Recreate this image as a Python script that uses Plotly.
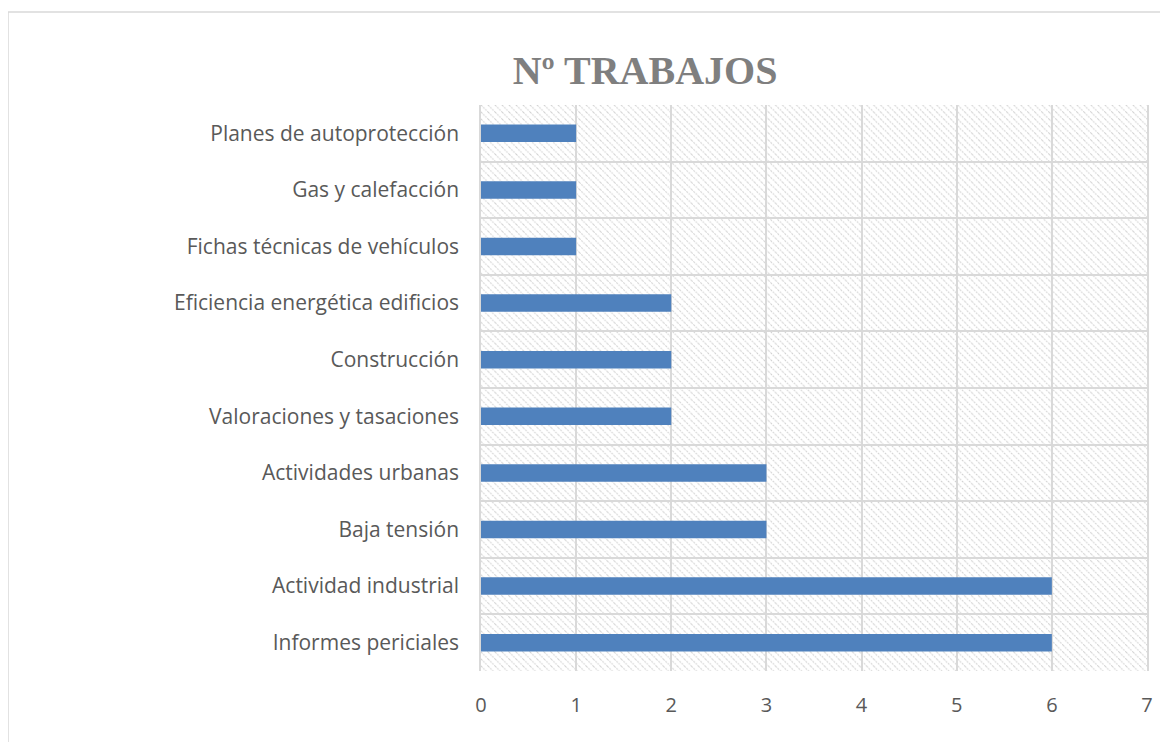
import base64

import plotly.graph_objects as go

categorias = [
    "Informes periciales",
    "Actividad industrial",
    "Baja tensión",
    "Actividades urbanas",
    "Valoraciones y tasaciones",
    "Construcción",
    "Eficiencia energética edificios",
    "Fichas técnicas de vehículos",
    "Gas y calefacción",
    "Planes de autoprotección",
]
trabajos = [6, 6, 3, 3, 2, 2, 2, 1, 1, 1]

# hatched background for the plot area (Excel style "light downward diagonal")
svg = (
    "<svg xmlns='http://www.w3.org/2000/svg' width='665' height='565'>"
    "<defs><pattern id='p' width='7' height='7' patternUnits='userSpaceOnUse'>"
    "<path d='M0,0 L7,7 M-1,6 L1,8 M6,-1 L8,1' stroke='#d0d0d0' stroke-width='1' "
    "stroke-dasharray='2,1'/></pattern></defs>"
    "<rect width='100%' height='100%' fill='white'/>"
    "<rect width='100%' height='100%' fill='url(#p)'/></svg>"
)
hatch = "data:image/svg+xml;base64," + base64.b64encode(svg.encode()).decode()

# the page puts the figure 8px in from the window corner
FW, FH = 1160, 734
L, R, T, B = 473, 21, 97, 71
W, H = FW - L - R, FH - T - B

fig = go.Figure(go.Bar(
    x=trabajos,
    y=categorias,
    orientation="h",
    width=0.31,
    marker=dict(color="#4f81bd", line=dict(width=0)),
))

fig.update_layout(
    width=FW,
    height=FH,
    margin=dict(l=L, r=R, t=T, b=B),
    paper_bgcolor="white",
    plot_bgcolor="white",
    showlegend=False,
    title=dict(
        text="<b>Nº TRABAJOS</b>",
        x=637 / FW,
        xanchor="center",
        y=1 - 62 / FH,
        yanchor="middle",
        font=dict(family="Liberation Serif, serif", size=40, color="#7f7f7f"),
    ),
    images=[dict(
        source=hatch, xref="paper", yref="paper", x=0, y=1, sizex=1, sizey=1,
        sizing="stretch", layer="below", xanchor="left", yanchor="top",
    )],
    shapes=[dict(
        type="rect", xref="paper", yref="paper",
        x0=(0 - L) / W, x1=(1180 - L) / W, y0=-0.2, y1=(H + T - 4) / H,
        line=dict(color="#d9d9d9", width=1.5), layer="below",
    )],
)

fig.update_xaxes(
    range=[0, 7],
    dtick=1,
    showgrid=True,
    gridcolor="#d9d9d9",
    gridwidth=1.5,
    zeroline=False,
    showline=False,
    ticks="",
    ticklabelstandoff=20,
    tickfont=dict(family="Open Sans, Liberation Sans, sans-serif", size=20, color="#595959"),
)
fig.update_yaxes(
    type="category",
    tickson="boundaries",
    showgrid=True,
    gridcolor="#d9d9d9",
    gridwidth=1.5,
    showline=True,
    linecolor="#d9d9d9",
    linewidth=1.5,
    mirror=True,
    ticks="",
    ticklabelstandoff=16,
    tickfont=dict(family="Open Sans, Liberation Sans, sans-serif", size=21, color="#595959"),
)

fig.write_html("out.html")
